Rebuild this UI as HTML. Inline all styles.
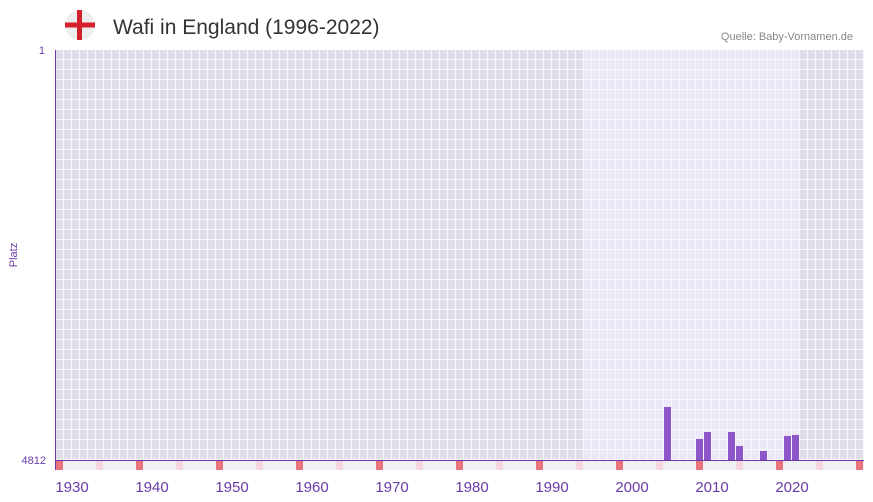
<!DOCTYPE html>
<html><head><meta charset="utf-8"><style>
body{margin:0;background:#fff;font-family:"Liberation Sans",sans-serif;}
</style></head><body>
<svg width="873" height="502" xmlns="http://www.w3.org/2000/svg" style="display:block">
<defs>
<pattern id="g" x="56" y="50" width="8" height="10" patternUnits="userSpaceOnUse">
<rect x="7" y="0" width="1" height="10" fill="#f8f7fb"/><rect x="0" y="9" width="8" height="1" fill="#f8f7fb"/>
</pattern>
</defs>
<circle cx="80" cy="25" r="15" fill="#eeeeee"/>
<rect x="77" y="10" width="5" height="30" fill="#d4202a"/>
<rect x="65" y="22.5" width="30" height="5" fill="#d4202a"/>
<text x="113" y="34" font-size="21" fill="#333">Wafi in England (1996-2022)</text>
<text x="853" y="40" font-size="11" fill="#888" text-anchor="end">Quelle: Baby-Vornamen.de</text>
<rect x="56" y="50" width="808" height="410" fill="#e1dcea"/>
<rect x="584" y="50" width="216" height="410" fill="#ece8f7"/>
<rect x="56" y="50" width="808" height="410" fill="url(#g)"/>
<rect x="56" y="460" width="808" height="10" fill="#f2f0f7"/>
<g fill="#e8737c">
<rect x="56" y="460" width="7" height="10"/><rect x="136" y="460" width="7" height="10"/><rect x="216" y="460" width="7" height="10"/><rect x="296" y="460" width="7" height="10"/><rect x="376" y="460" width="7" height="10"/><rect x="456" y="460" width="7" height="10"/><rect x="536" y="460" width="7" height="10"/><rect x="616" y="460" width="7" height="10"/><rect x="696" y="460" width="7" height="10"/><rect x="776" y="460" width="7" height="10"/><rect x="856" y="460" width="7" height="10"/>
</g>
<g fill="#f5d6df">
<rect x="96" y="460" width="7" height="10"/><rect x="176" y="460" width="7" height="10"/><rect x="256" y="460" width="7" height="10"/><rect x="336" y="460" width="7" height="10"/><rect x="416" y="460" width="7" height="10"/><rect x="496" y="460" width="7" height="10"/><rect x="576" y="460" width="7" height="10"/><rect x="656" y="460" width="7" height="10"/><rect x="736" y="460" width="7" height="10"/><rect x="816" y="460" width="7" height="10"/>
</g>
<g fill="#8c55c8">
<rect x="664" y="407" width="7" height="53"/>
<rect x="696" y="439" width="7" height="21"/>
<rect x="704" y="432" width="7" height="28"/>
<rect x="728" y="432" width="7" height="28"/>
<rect x="736" y="446" width="7" height="14"/>
<rect x="760" y="451" width="7" height="9"/>
<rect x="784" y="436" width="7" height="24"/>
<rect x="792" y="435" width="7" height="25"/>
</g>
<rect x="55" y="50" width="1" height="420" fill="#6a3aa8"/>
<rect x="55" y="460" width="809" height="1" fill="#6a3aa8"/>
<g font-size="11" fill="#6a3aa8" text-anchor="end">
<text x="45" y="54">1</text><text x="46" y="464">4812</text>
</g>
<text x="17" y="255" font-size="11" fill="#6a3aa8" text-anchor="middle" transform="rotate(-90 17 255)">Platz</text>
<g font-size="15" fill="#6a3aa8" text-anchor="middle">
<text x="72" y="492">1930</text><text x="152" y="492">1940</text><text x="232" y="492">1950</text><text x="312" y="492">1960</text><text x="392" y="492">1970</text><text x="472" y="492">1980</text><text x="552" y="492">1990</text><text x="632" y="492">2000</text><text x="712" y="492">2010</text><text x="792" y="492">2020</text>
</g>
</svg>
</body></html>
